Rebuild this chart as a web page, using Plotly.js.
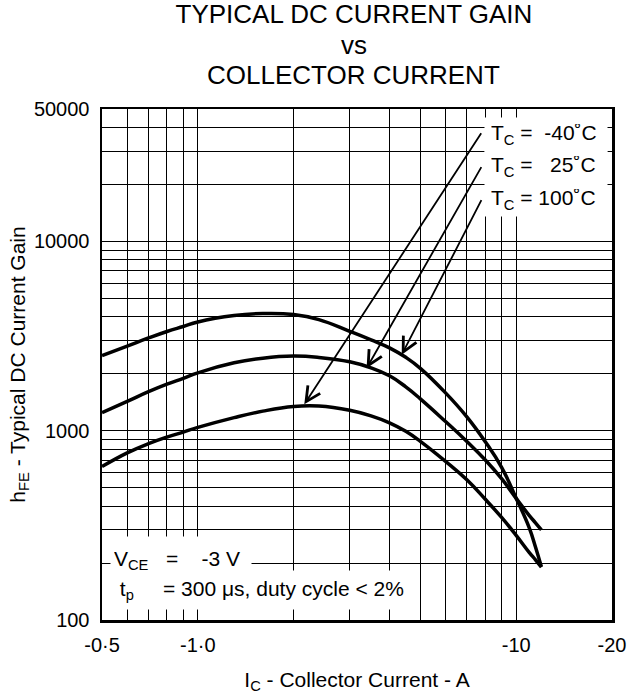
<!DOCTYPE html>
<html>
<head>
<meta charset="utf-8">
<script src="https://cdn.plot.ly/plotly-3.0.1.min.js"></script>
<style>html,body{margin:0;padding:0;background:#fff;}</style>
</head>
<body>
<div id="chart" style="width:629px;height:698px;"></div>
<script>
// Collector current magnitude (A) - axis shows negative values (PNP)
const currentA = [0.5, 0.6, 0.7, 0.8, 0.9, 1.0, 1.3, 1.6, 2.0, 2.4, 3.0, 3.5, 4.0, 4.5, 5, 6, 7, 8, 9, 10, 11, 11.5, 12];
// Typical DC current gain per case temperature
const gain100C = [2494, 2796, 3087, 3341, 3550, 3750, 4054, 4154, 4104, 3862, 3349, 3019, 2739, 2440, 2135, 1584, 1183, 873, 640, 440, 306, 243, 191];
const gain25C  = [1246, 1428, 1606, 1759, 1890, 2021, 2282, 2416, 2476, 2437, 2311, 2148, 1949, 1704, 1473, 1117, 877, 700, 558, 439, 356, 326, 299];
const gainM40C = [646, 763, 854, 925, 983, 1040, 1172, 1268, 1342, 1349, 1281, 1197, 1100, 992, 878, 688, 550, 434, 348, 280, 227, 208, 190];

// Axis tick labels and grid positions
const xLabelVals = [0.5, 1, 10, 20];
const xLabelText = ['-0\u00b75', '-1\u00b70', '-10', '-20'];
const xMinorGrid = [0.6, 0.7, 0.8, 0.9, 2, 3, 4, 5, 6, 7, 8, 9];
const yLabelVals = [100, 1000, 10000, 50000];
const yLabelText = ['100', '1000', '10000', '50000'];
const yMinorGrid = [200, 300, 400, 500, 600, 700, 800, 900, 2000, 3000, 4000, 5000, 6000, 7000, 8000, 9000, 20000, 30000, 40000];

// Temperature labels and the curve points their arrows touch
const tempLabels = ['T<sub>C</sub> =\u00a0\u00a0-40\u02daC', 'T<sub>C</sub> =\u00a0\u00a0\u00a025\u02daC', 'T<sub>C</sub> = 100\u02daC'];
const arrowTipA = [2.16, 3.39, 4.37];
const arrowTipGain = [1377, 2138, 2515];
const arrowTailA = [7.82, 7.82, 7.82];
const arrowTailGain = [37950, 25100, 16800];

const FONT = '"Liberation Sans", Arimo, Arial, Helvetica, sans-serif';

const lineStyle = {color: '#000', width: 3.5, shape: 'spline', smoothing: 1.3};
const traces = [
  {x: currentA, y: gain100C, name: 'T_C = 100°C', mode: 'lines', line: lineStyle, hoverinfo: 'skip'},
  {x: currentA, y: gain25C, name: 'T_C = 25°C', mode: 'lines', line: lineStyle, hoverinfo: 'skip'},
  {x: currentA, y: gainM40C, name: 'T_C = -40°C', mode: 'lines', line: lineStyle, hoverinfo: 'skip'}
];

const annotations = [];
// arrows
for (let i = 0; i < 3; i++) {
  annotations.push({
    xref: 'x', yref: 'y', axref: 'x', ayref: 'y',
    x: Math.log10(arrowTipA[i]), y: Math.log10(arrowTipGain[i]),
    ax: Math.log10(arrowTailA[i]), ay: Math.log10(arrowTailGain[i]),
    text: '', showarrow: true, arrowhead: 5, arrowsize: 1.6, arrowwidth: 1.8,
    arrowcolor: '#000', standoff: 0, startstandoff: 0
  });
}
// temperature labels (white boxes)
const labelY = [134, 166.5, 199];
for (let i = 0; i < 3; i++) {
  annotations.push({
    xref: 'paper', yref: 'paper', x: (484 - 102) / 510, y: (620 - labelY[i]) / 511,
    xanchor: 'left', yanchor: 'middle', align: 'left', valign: 'middle',
    text: tempLabels[i], showarrow: false, bgcolor: '#fff', borderpad: 6,
    width: 110, height: 21, font: {family: FONT, size: 21, color: '#000'}
  });
}
// test condition boxes
annotations.push({
  xref: 'paper', yref: 'paper', x: (110 - 102) / 510, y: (620 - 560) / 511,
  xanchor: 'left', yanchor: 'middle', align: 'left', valign: 'middle',
  text: 'V<sub>CE</sub>\u00a0\u00a0\u00a0=\u00a0\u00a0\u00a0\u00a0-3 V', showarrow: false,
  bgcolor: '#fff', borderpad: 3, width: 134, height: 40,
  font: {family: FONT, size: 21, color: '#000'}
});
annotations.push({
  xref: 'paper', yref: 'paper', x: (110 - 102) / 510, y: (620 - 590) / 511,
  xanchor: 'left', yanchor: 'middle', align: 'left', valign: 'middle',
  text: '\u00a0t<sub>p</sub>\u00a0\u00a0\u00a0\u00a0\u00a0= 300 \u03bcs, duty cycle < 2%', showarrow: false,
  bgcolor: '#fff', borderpad: 3, width: 296, height: 32,
  font: {family: FONT, size: 21, color: '#000'}
});
// title lines 2 and 3
annotations.push({
  xref: 'paper', yref: 'paper', x: 0.494, y: (620 - 45) / 511, xanchor: 'center', yanchor: 'middle',
  text: 'vs', showarrow: false, font: {family: FONT, size: 26, color: '#000'}
});
annotations.push({
  xref: 'paper', yref: 'paper', x: 0.494, y: (620 - 75) / 511, xanchor: 'center', yanchor: 'middle',
  text: 'COLLECTOR CURRENT', showarrow: false, font: {family: FONT, size: 26, color: '#000'}
});

const axisCommon = {
  type: 'log', tickmode: 'array', ticks: '', showgrid: true, gridcolor: '#000', gridwidth: 1,
  showline: true, mirror: true, linecolor: '#000', linewidth: 2.5, zeroline: false,
  tickfont: {family: FONT, size: 20, color: '#000'}, fixedrange: true, automargin: false
};

const layout = {
  width: 629, height: 698,
  margin: {l: 102, r: 17, t: 109, b: 78, pad: 0},
  paper_bgcolor: '#fff', plot_bgcolor: '#fff',
  font: {family: FONT, color: '#000'},
  showlegend: false,
  title: {
    text: 'TYPICAL DC CURRENT GAIN', font: {family: FONT, size: 26, color: '#000'},
    x: 0.494, xref: 'paper', xanchor: 'center', y: 1 - 14 / 698, yref: 'container', yanchor: 'middle'
  },
  xaxis: Object.assign({}, axisCommon, {
    range: [Math.log10(0.5), Math.log10(20)],
    tickvals: xLabelVals, ticktext: xLabelText,
    minor: {tickmode: 'array', tickvals: xMinorGrid, ticks: '', showgrid: true, gridcolor: '#000', gridwidth: 1},
    ticklabelstandoff: 5,
    title: {text: 'I<sub>C</sub> - Collector Current - A', font: {family: FONT, size: 21, color: '#000'}, standoff: 18}
  }),
  yaxis: Object.assign({}, axisCommon, {
    range: [2, Math.log10(50000)],
    tickvals: yLabelVals, ticktext: yLabelText,
    minor: {tickmode: 'array', tickvals: yMinorGrid, ticks: '', showgrid: true, gridcolor: '#000', gridwidth: 1},
    ticklabelstandoff: 6,
    title: {text: 'h<sub>FE</sub> - Typical DC Current Gain', font: {family: FONT, size: 21, color: '#000'}, standoff: 3}
  }),
  annotations: annotations
};

Plotly.newPlot('chart', traces, layout, {staticPlot: true, displayModeBar: false});
</script>
</body>
</html>
